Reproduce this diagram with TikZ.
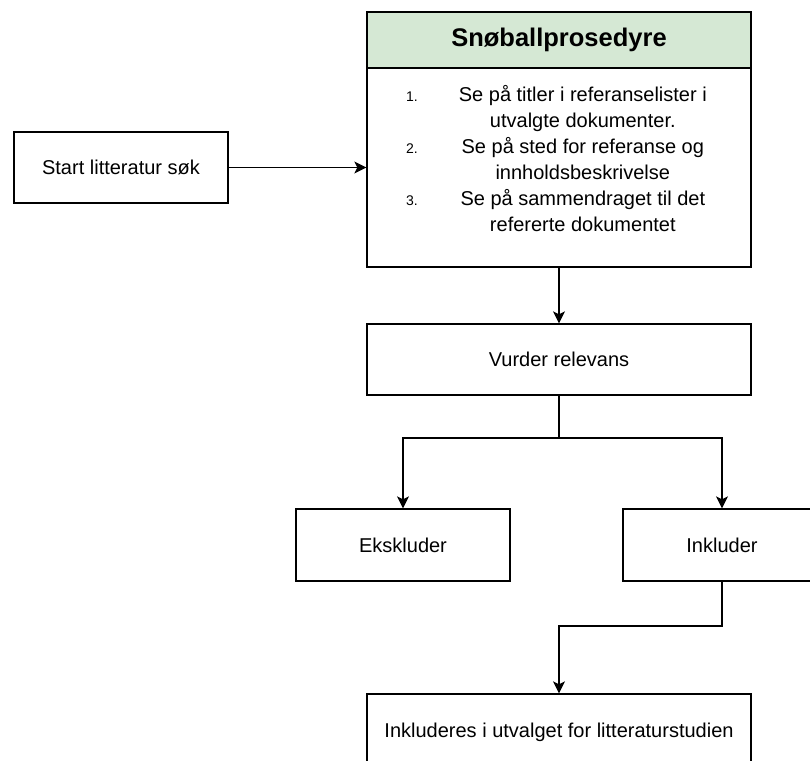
\documentclass[tikz,border=0pt]{standalone}
\usepackage{fontspec}
\setmainfont{Liberation Sans}
\usepackage{tikz}
\usetikzlibrary{arrows.meta,positioning,calc}
\definecolor{headgreen}{HTML}{D5E8D4}

\begin{document}
\begin{tikzpicture}[
  x=1pt, y=-1pt,
  box/.style={draw, line width=1.3pt, minimum width=384pt, minimum height=71pt,
              align=center, inner sep=0pt, font=\fontsize{20}{26}\selectfont},
  arr/.style={-{Stealth[length=12pt,width=12pt,inset=3pt]}, line width=1.3pt}
]
\useasboundingbox (0,0) rectangle (810,760);
\clip (0,0) rectangle (810,760);

\node[box, minimum width=214pt] (start) at (121,167.5) {Start litteratur søk};
\node[box, fill=headgreen, minimum height=56pt, font=\fontsize{25.5}{30}\selectfont\bfseries] (title) at (559,40) {Snøballprosedyre};
\node[box, minimum height=199pt] (proc) at (559,167.5) {};
\node[anchor=west, inner sep=0pt, font=\fontsize{20}{26}\selectfont] (steps) at (406,161) {%
  \begin{tabular}{@{}l@{\hspace{41pt}}c@{}}
  {\fontsize{14}{26}\selectfont 1.} & Se på titler i referanselister i\\
     & utvalgte dokumenter.\\
  {\fontsize{14}{26}\selectfont 2.} & Se på sted for referanse og\\
     & innholdsbeskrivelse\\
  {\fontsize{14}{26}\selectfont 3.} & Se på sammendraget til det\\
     & refererte dokumentet
  \end{tabular}};
\node[box] (vurder) at (559,359.5) {Vurder relevans};
\node[box, minimum width=214pt, minimum height=72pt] (ekskl) at (403,545) {Ekskluder};
\node[box, minimum width=198pt, minimum height=72pt] (inkl) at (722,545) {Inkluder};
\node[box, minimum height=76pt] (final) at (559,732) {Inkluderes i utvalget for litteraturstudien};

% Branch points
\coordinate (split) at (559,438);
\coordinate (merge) at (559,626);

\draw[arr] (start) -- (proc);
\draw[arr] (proc) -- (vurder);
\draw[arr] (vurder.south) -- (split) -| (ekskl.north);
\draw[arr] (split) -| (inkl.north);
\draw[arr] (inkl.south) |- (merge) -- (final.north);
\end{tikzpicture}
\end{document}
